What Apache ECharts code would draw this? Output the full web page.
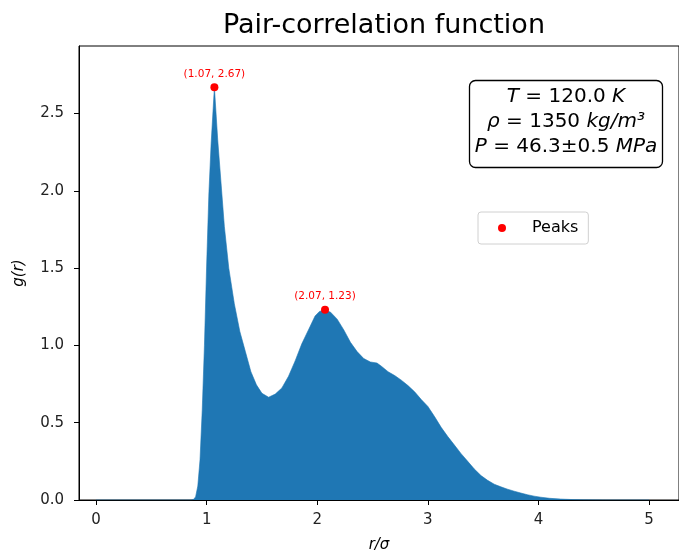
<!DOCTYPE html>
<html>
<head>
<meta charset="utf-8">
<script src="https://cdn.jsdelivr.net/npm/echarts@6/dist/echarts.min.js"></script>
<style>
  html, body { margin: 0; padding: 0; background: #fff; }
  #chart { width: 679px; height: 553px; }
</style>
</head>
<body>
<div id="chart"></div>
<script>
// Radial distance r/σ and pair-correlation g(r)
const rValues = [0.00, 0.80, 0.86, 0.88, 0.90, 0.92, 0.94, 0.96, 0.98, 1.00, 1.02, 1.04, 1.07,
  1.10, 1.13, 1.16, 1.20, 1.25, 1.30, 1.35, 1.40, 1.45, 1.50, 1.56, 1.62, 1.68, 1.74, 1.80,
  1.86, 1.92, 1.98, 2.02, 2.07, 2.12, 2.18, 2.24, 2.30, 2.36, 2.42, 2.48, 2.54, 2.58, 2.64,
  2.70, 2.76, 2.82, 2.88, 2.94, 3.00, 3.06, 3.12, 3.18, 3.24, 3.30, 3.36, 3.42, 3.48, 3.54,
  3.60, 3.66, 3.72, 3.78, 3.84, 3.90, 3.96, 4.02, 4.10, 4.20, 4.30, 4.40, 4.60, 5.00];
const gValues = [0, 0, 0, 0.003, 0.02, 0.09, 0.26, 0.58, 1.00, 1.52, 1.98, 2.30, 2.67,
  2.33, 2.05, 1.77, 1.50, 1.27, 1.09, 0.96, 0.83, 0.745, 0.69, 0.665, 0.685, 0.725, 0.80, 0.90,
  1.01, 1.10, 1.19, 1.22, 1.23, 1.215, 1.17, 1.10, 1.02, 0.96, 0.915, 0.893, 0.886, 0.865, 0.830,
  0.805, 0.775, 0.74, 0.70, 0.65, 0.605, 0.54, 0.47, 0.41, 0.355, 0.30, 0.25, 0.20, 0.158, 0.127,
  0.102, 0.085, 0.07, 0.057, 0.045, 0.034, 0.025, 0.018, 0.011, 0.006, 0.003, 0.001, 0, 0];

// Located maxima
const peakR = [1.07, 2.07];
const peakG = [2.67, 1.23];

// Tick positions
const xTicks = [0, 1, 2, 3, 4, 5];
const yTicks = [0, 0.5, 1.0, 1.5, 2.0, 2.5];

// State of the simulated system
const stateLines = [
  [['i', 'T'], ['n', ' = 120.0 '], ['i', 'K']],
  [['i', 'ρ'], ['n', ' = 1350 '], ['i', 'kg/m³']],
  [['i', 'P'], ['n', ' = 46.3±0.5 '], ['i', 'MPa']]
];

const FONT = 'DejaVu Sans';
const curve = rValues.map((r, i) => [r, gValues[i]]);
const peaks = peakR.map((r, i) => [r, peakG[i]]);

const chart = echarts.init(document.getElementById('chart'), null, { renderer: 'canvas' });

const BOX_FS = 20;
const richStyles = {
  i: { fontFamily: FONT, fontSize: BOX_FS, fontStyle: 'italic', fill: '#000' },
  n: { fontFamily: FONT, fontSize: BOX_FS, fill: '#000' }
};
const boxCx = 566;
const lineY = [97, 122, 147];
const stateTexts = stateLines.map((parts, k) => ({
  type: 'text',
  x: boxCx,
  y: lineY[k],
  style: {
    text: parts.map(p => `{${p[0]}|${p[1]}}`).join(''),
    rich: richStyles,
    align: 'center',
    verticalAlign: 'middle',
    font: `${BOX_FS}px ${FONT}`
  },
  z: 100
}));

const option = {
  animation: false,
  backgroundColor: '#fff',
  textStyle: { fontFamily: FONT },
  title: {
    text: 'Pair-correlation function',
    left: 379,
    top: 7,
    textAlign: 'center',
    textStyle: { fontFamily: FONT, fontSize: 27, fontWeight: 'normal', color: '#000' }
  },
  grid: {
    left: 79, top: 46, right: 0, bottom: 53,
    containLabel: false,
    outerBoundsMode: 'none',
    show: true, borderColor: '#000', borderWidth: 1, backgroundColor: 'transparent'
  },
  legend: {
    data: ['Peaks'],
    left: 478, top: 212,
    orient: 'vertical',
    padding: [8, 10, 8, 20],
    itemWidth: 18, itemHeight: 8,
    icon: 'circle',
    borderColor: '#d0d0d0', borderWidth: 1, borderRadius: 3,
    backgroundColor: '#fff',
    textStyle: { fontFamily: FONT, fontSize: 16, color: '#000', padding: [0, 0, 0, 16] }
  },
  xAxis: {
    type: 'value',
    min: -0.154, max: 5.27,
    name: 'r/σ',
    nameLocation: 'middle',
    nameGap: 38,
    nameTextStyle: { fontFamily: FONT, fontSize: 15, fontStyle: 'italic', color: '#000' },
    axisLine: { onZero: false, lineStyle: { color: '#000', width: 1 } },
    axisTick: { show: true, length: 5, inside: false, customValues: xTicks, lineStyle: { color: '#000' } },
    axisLabel: { customValues: xTicks, formatter: v => String(v), fontFamily: FONT, fontSize: 15, color: '#222', margin: 13 },
    splitLine: { show: false }
  },
  yAxis: {
    type: 'value',
    min: 0, max: 2.937,
    name: 'g(r)',
    nameLocation: 'middle',
    nameGap: 52,
    nameTextStyle: { fontFamily: FONT, fontSize: 15, fontStyle: 'italic', color: '#000' },
    axisLine: { show: true, onZero: false, lineStyle: { color: '#000', width: 1 } },
    axisTick: { show: true, length: 5, inside: false, customValues: yTicks, lineStyle: { color: '#000' } },
    axisLabel: { customValues: yTicks, formatter: v => v.toFixed(1), fontFamily: FONT, fontSize: 15, color: '#222', margin: 15 },
    splitLine: { show: false }
  },
  series: [
    {
      name: 'g(r)',
      type: 'line',
      data: curve,
      showSymbol: false,
      symbol: 'none',
      smooth: false,
      lineStyle: { width: 0.6, color: '#1f77b4' },
      areaStyle: { color: '#1f77b4', opacity: 1 },
      z: 2
    },
    {
      name: 'Peaks',
      type: 'scatter',
      data: peaks,
      symbol: 'circle',
      symbolSize: 8,
      itemStyle: { color: '#ff0000', opacity: 1 },
      label: {
        show: true,
        position: 'top',
        distance: 4,
        formatter: p => `(${p.value[0].toFixed(2)}, ${p.value[1].toFixed(2)})`,
        fontFamily: FONT,
        fontSize: 10.5,
        color: '#ff0000'
      },
      z: 5
    }
  ],
  graphic: [
    {
      type: 'rect',
      shape: { x: 469.5, y: 80.5, width: 193, height: 87, r: 6 },
      style: { fill: '#fff', stroke: '#000', lineWidth: 1.3 },
      z: 99
    },
    ...stateTexts
  ]
};

chart.setOption(option);
</script>
</body>
</html>
